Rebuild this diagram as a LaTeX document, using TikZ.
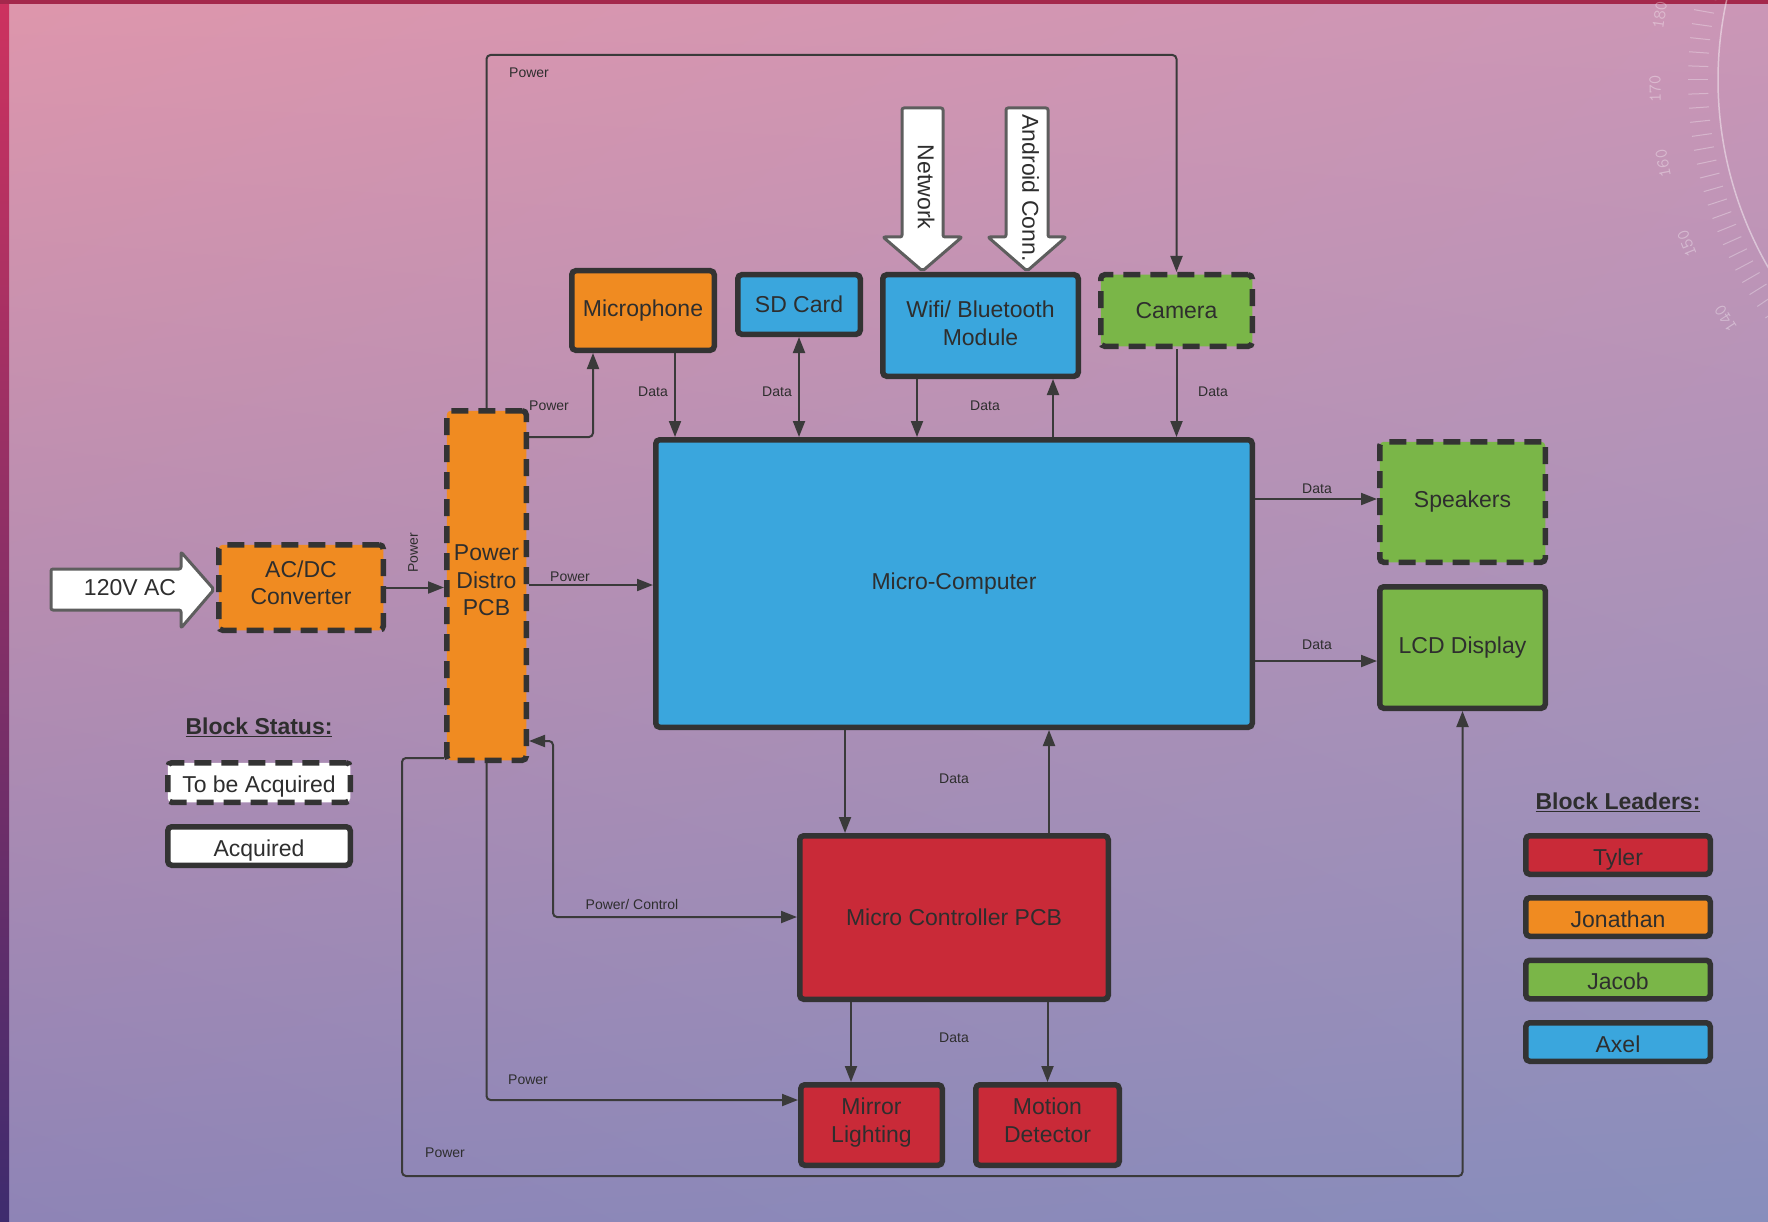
\documentclass[tikz,border=0pt]{standalone}
\usepackage{fontspec}
\setmainfont{Liberation Sans}
\usetikzlibrary{arrows.meta, shadings}

\definecolor{linegray}{HTML}{333333}
\definecolor{wiregray}{HTML}{3A3A3A}
\definecolor{txtgray}{HTML}{2E2E2E}
\definecolor{arrowgray}{HTML}{5E5E5E}
\definecolor{orangeblk}{RGB}{240,139,33}
\definecolor{blueblk}{RGB}{58,166,221}
\definecolor{greenblk}{RGB}{122,182,72}
\definecolor{redblk}{RGB}{201,42,56}
\definecolor{bgtl}{RGB}{222,150,172}
\definecolor{bgtr}{RGB}{203,150,182}
\definecolor{bgbl}{RGB}{142,132,182}
\definecolor{bgbr}{RGB}{136,142,188}
\definecolor{edgetop}{RGB}{205,50,95}
\definecolor{edgebot}{RGB}{62,44,110}

\newcommand{\blkfont}{\fontsize{23}{27.5}\selectfont}
\newcommand{\lblfont}{\fontsize{14}{16}\selectfont}

\tikzset{
    block/.style={draw=linegray, line width=5.5pt, rounded corners=4pt, text=txtgray,
        font=\blkfont, align=center, inner sep=0pt},
    tbablock/.style={block, dash pattern=on 17pt off 10pt},
    multiline/.style={text depth=10pt},
    legendbox/.style={text height=20pt, text depth=0pt},
    conn/.style={draw=wiregray, line width=2pt, rounded corners=4pt,
        -{Triangle[length=16pt,width=12pt]}},
    conntwo/.style={conn, {Triangle[length=16pt,width=12pt]}-{Triangle[length=16pt,width=12pt]}},
    lbl/.style={font=\lblfont, text=txtgray, inner sep=0pt},
    bigarrow/.style={draw=arrowgray, fill=white, line width=3pt, rounded corners=2pt, line join=round},
    legendtitle/.style={font=\fontsize{23}{27}\selectfont\bfseries, text=txtgray, inner sep=0pt}
}

\begin{document}
\begin{tikzpicture}[x=1pt, y=-1pt]
\useasboundingbox (0,0) rectangle (1768,1222);

% ===== Background =====
\shade[upper left=bgtl, upper right=bgtr, lower left=bgbl, lower right=bgbr] (0,0) rectangle (1768,1222);
\shade[top color=edgetop, bottom color=edgebot] (0,0) rectangle (9,1222);
\fill[edgetop!80!black] (0,0) rectangle (1768,4);
\begin{scope}
    \clip (0,0) rectangle (1768,1222);
    \draw[white, opacity=0.45, line width=1.5pt] (2093,80) ++(200:375) arc[start angle=200, end angle=140, radius=375];
    \foreach \a in {140,142,...,200}
        \draw[shift={(2093,80)}, white, opacity=0.3, line width=1pt] (\a:385) -- (\a:405);
    \foreach \v/\ang in {140/147, 150/158, 160/169, 170/178.8, 180/188.5}
        \node[shift={(2093,80)}, white, opacity=0.35, inner sep=0pt, font=\fontsize{18}{18}\ttfamily, rotate={270-\ang}]
            (deg\v) at (\ang:438) {\v};
\end{scope}

% ===== Blocks =====
\node[block, fill=blueblk, minimum width=596.5, minimum height=287.5] (mcomp) at (954,583.5) {Micro-Computer};
\node[block, fill=orangeblk, minimum width=142.5, minimum height=79.5] (mic) at (643,310.5) {Microphone};
\node[block, fill=blueblk, minimum width=122.5, minimum height=59.5] (sd) at (799,304.5) {SD Card};
\node[block, fill=blueblk, text depth=5pt, minimum width=195.5, minimum height=101.5] (wifi) at (980.5,325.5) {Wifi/ Bluetooth\\Module};
\node[tbablock, fill=greenblk, minimum width=151.5, minimum height=71.5] (cam) at (1176.5,310.5) {Camera};
\node[tbablock, multiline, fill=orangeblk, minimum width=79.5, minimum height=349.5] (pdist) at (486.5,585.5) {Power\\Distro\\PCB};
\node[tbablock, multiline, fill=orangeblk, minimum width=164.5, minimum height=85.5] (acdc) at (301,587.5) {AC/DC\\Converter};
\node[tbablock, fill=greenblk, minimum width=165.5, minimum height=120.5] (spk) at (1462.5,502) {Speakers};
\node[block, fill=greenblk, minimum width=165.5, minimum height=121.5] (lcd) at (1462.5,647.5) {LCD Display};
\node[block, fill=redblk, minimum width=308.5, minimum height=163.5] (mcpcb) at (954,917.5) {Micro Controller PCB};
\node[block, multiline, fill=redblk, minimum width=141.5, minimum height=80.5] (mirror) at (871.5,1125) {Mirror\\Lighting};
\node[block, multiline, fill=redblk, minimum width=143.5, minimum height=80.5] (motion) at (1047.5,1125) {Motion\\Detector};

% ===== Input arrows =====
\draw[bigarrow] (51,569) -- (181,569) -- (181,552) -- (214,589.5) -- (181,628) -- (181,610) -- (51,610) -- cycle;
\node[font=\blkfont, text=txtgray] (ac) at (130,588) {120V AC};
\draw[bigarrow] (902,108) -- (943,108) -- (943,237) -- (962,237) -- (922.5,271) -- (883,237) -- (902,237) -- cycle;
\node[font=\blkfont, text=txtgray, rotate=-90] (net) at (926,187) {Network};
\draw[bigarrow] (1006,108) -- (1048,108) -- (1048,237) -- (1066,237) -- (1027,271) -- (988,237) -- (1006,237) -- cycle;
\node[font=\blkfont, text=txtgray, rotate=-90] (andr) at (1030.5,188) {Android Conn.};

% ===== Connectors =====
\draw[conn] (pdist.north) |- (1176.5,55) -- (cam.north);
\draw[conn] (pdist.east |- 0,437) -| (mic.south -| 593,0);
\draw[conn] (mic.south -| 675,0) -- (mcomp.north -| 675,0);
\draw[conntwo] (sd.south -| 799,0) -- (mcomp.north -| 799,0);
\draw[conn] (wifi.south -| 917,0) -- (mcomp.north -| 917,0);
\draw[conn] (mcomp.north -| 1053,0) -- (wifi.south -| 1053,0);
\draw[conn] (cam.south) -- (mcomp.north -| cam.south);
\draw[conn] (acdc.east) -- (pdist.west |- acdc.east);
\draw[conn] (pdist.east |- 0,585) -- (mcomp.west |- 0,585);
\draw[conn] (mcomp.east |- 0,499) -- (spk.west |- 0,499);
\draw[conn] (mcomp.east |- 0,661) -- (lcd.west |- 0,661);
\draw[conn] (mcomp.south -| 845,0) -- (mcpcb.north -| 845,0);
\draw[conn] (mcpcb.north -| 1049,0) -- (mcomp.south -| 1049,0);
\draw[conntwo] (pdist.east |- 0,741) -| (553,917) -- (mcpcb.west |- 0,917);
\draw[conn] (pdist.south) |- (mirror.west |- 0,1100);
\draw[conn] (mcpcb.south -| 851,0) -- (mirror.north -| 851,0);
\draw[conn] (mcpcb.south -| motion.north) -- (motion.north);
\draw[conn] (pdist.west |- 0,758) -| (402,1176) -| (lcd.south);

% ===== Connector labels =====
\node[lbl] (ltop) at (529,73) {Power};
\node[lbl] (lmicp) at (549,406) {Power};
\node[lbl] (lmic) at (653,392) {Data};
\node[lbl] (lsd) at (777,392) {Data};
\node[lbl] (lwifi) at (985,406) {Data};
\node[lbl] (lcam) at (1213,392) {Data};
\node[lbl, rotate=90] (lacdc) at (413,553) {Power};
\node[lbl] (lpmc) at (570,577) {Power};
\node[lbl] (lspk) at (1317,489) {Data};
\node[lbl] (llcd) at (1317,645) {Data};
\node[lbl] (lmcpcb) at (954,779) {Data};
\node[lbl] (lctrl) at (632,904) {Power/ Control};
\node[lbl] (lout) at (954,1038) {Data};
\node[lbl] (lmir) at (528,1080) {Power};
\node[lbl] (lloop) at (445,1153) {Power};

% ===== Legends =====
\node[legendtitle] (stattitle) at (259,727) {\underline{Block Status:}};
\node[tbablock, legendbox, fill=white, minimum width=182.5, minimum height=39.5] (tba) at (259,782.5) {To be Acquired};
\node[block, legendbox, fill=white, minimum width=182.5, minimum height=38.5] (acq) at (259,846) {Acquired};
\node[legendtitle] (leadtitle) at (1618,802) {\underline{Block Leaders:}};
\node[block, legendbox, fill=redblk, minimum width=184.5, minimum height=38.5] (tyler) at (1618,855) {Tyler};
\node[block, legendbox, fill=orangeblk, minimum width=184.5, minimum height=38.5] (jon) at (1618,917) {Jonathan};
\node[block, legendbox, fill=greenblk, minimum width=184.5, minimum height=38.5] (jacob) at (1618,979.5) {Jacob};
\node[block, legendbox, fill=blueblk, minimum width=184.5, minimum height=38.5] (axel) at (1618,1042) {Axel};

\end{tikzpicture}
\end{document}
